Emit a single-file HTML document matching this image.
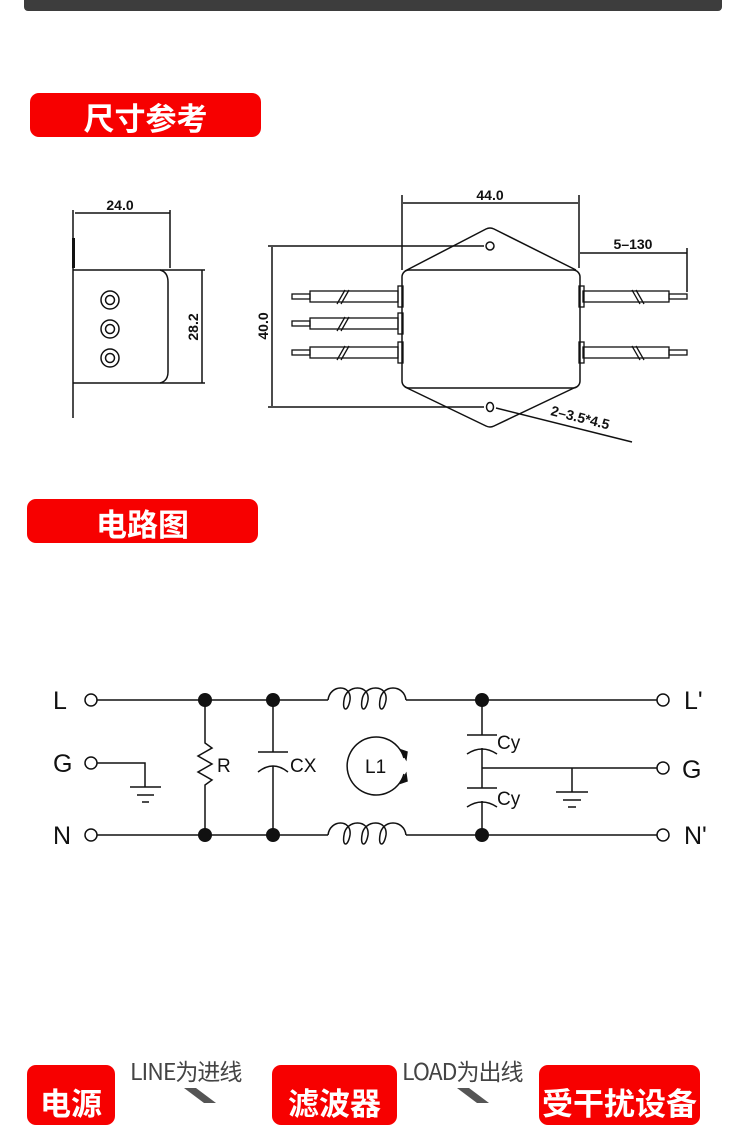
<!DOCTYPE html>
<html><head><meta charset="utf-8"><style>
html,body{margin:0;padding:0;background:#fff;}
body{width:750px;height:1103px;overflow:hidden;position:relative;font-family:"Liberation Sans","Noto Sans CJK SC",sans-serif;}
.red{position:absolute;background:#f70000;border-radius:9px;color:#fff;font-family:"Noto Sans CJK SC",sans-serif;font-weight:bold;text-align:center;}
.gray{position:absolute;color:#444;font-family:"Noto Sans CJK SC",sans-serif;font-size:23px;line-height:24px;letter-spacing:-1px;}
</style></head><body>
<div style="position:absolute;left:24px;top:0;width:698px;height:11px;background:#3d3d3d;border-radius:0 0 4px 4px;"></div>
<div class="red" style="left:30px;top:93px;width:231px;height:44px;font-size:31px;line-height:48px;">尺寸参考</div>
<div class="red" style="left:27px;top:499px;width:231px;height:44px;font-size:31px;line-height:48px;">电路图</div>
<div class="red" style="left:27px;top:1065px;width:88px;height:60px;font-size:31px;line-height:74px;">电源</div>
<div class="red" style="left:272px;top:1065px;width:125px;height:60px;font-size:31px;line-height:74px;">滤波器</div>
<div class="red" style="left:539px;top:1065px;width:161px;height:60px;font-size:31px;line-height:74px;">受干扰设备</div>
<div class="gray" style="left:130px;top:1058px;">LINE为进线</div>
<div class="gray" style="left:402px;top:1058px;">LOAD为出线</div>
<svg width="750" height="1103" style="position:absolute;left:0;top:0" xmlns="http://www.w3.org/2000/svg">
<g fill="#555"><polygon points="184,1088 196,1088 216,1103 204,1103"/><polygon points="457,1088 469,1088 489,1103 477,1103"/></g>
<g stroke="#111" fill="none" stroke-width="1.5" font-family="Liberation Sans, sans-serif">
<line x1="73" y1="210" x2="73" y2="418"/><line x1="73.5" y1="238" x2="73.5" y2="268" stroke-width="3"/>
<line x1="75" y1="213" x2="170" y2="213"/><line x1="170" y1="210" x2="170" y2="268"/>
<path d="M73 270 H160 Q168 272 168 282 V372 Q168 381 160 383 H73"/>
<line x1="160" y1="270" x2="205" y2="270"/><line x1="160" y1="383" x2="205" y2="383"/>
<line x1="202" y1="270" x2="202" y2="383"/>
<circle cx="110" cy="300" r="9"/><circle cx="110" cy="300" r="4.5"/>
<circle cx="110" cy="329" r="9"/><circle cx="110" cy="329" r="4.5"/>
<circle cx="110" cy="358" r="9"/><circle cx="110" cy="358" r="4.5"/>
<path d="M405 271 L486 229 Q490 227 494 229 L576 270"/>
<path d="M405 387 L486 426 Q490 428 494 426 L576 387"/>
<rect x="402" y="270" width="178" height="118" rx="7"/>
<line x1="402" y1="195" x2="402" y2="270"/><line x1="579" y1="195" x2="579" y2="268"/>
<line x1="403" y1="203" x2="578" y2="203"/>
<line x1="268" y1="246" x2="484" y2="246"/><line x1="268" y1="407" x2="484" y2="407"/>
<line x1="272" y1="247" x2="272" y2="406"/>
<line x1="580" y1="253" x2="687" y2="253"/><line x1="687" y1="248" x2="687" y2="292"/>
<line x1="496" y1="408" x2="632" y2="442"/>
<g stroke-width="1.3">
<rect x="292" y="294" width="18" height="5"/><rect x="310" y="291" width="88" height="11"/><rect x="398" y="286" width="5" height="21"/>
<rect x="292" y="321" width="18" height="5"/><rect x="310" y="318" width="88" height="11"/><rect x="398" y="313" width="5" height="21"/>
<rect x="292" y="350" width="18" height="5"/><rect x="310" y="347" width="88" height="11"/><rect x="398" y="342" width="5" height="21"/>
<rect x="669" y="294" width="18" height="5"/><rect x="583" y="291" width="86" height="11"/><rect x="579" y="286" width="5" height="21"/>
<rect x="669" y="350" width="18" height="5"/><rect x="583" y="347" width="86" height="11"/><rect x="579" y="342" width="5" height="21"/>
<path d="M337 304 L345 290 M341 304 L349 290 M337 331 L345 317 M341 331 L349 317 M337 360 L345 346 M341 360 L349 346"/>
<path d="M632 290 L640 304 M636 290 L644 304 M632 346 L640 360 M636 346 L644 360"/>
</g>
<circle cx="91" cy="700" r="6"/><circle cx="91" cy="763" r="6"/><circle cx="91" cy="835" r="6"/>
<circle cx="663" cy="700" r="6"/><circle cx="663" cy="768" r="6"/><circle cx="663" cy="835" r="6"/>
<line x1="97" y1="700" x2="328" y2="700"/><line x1="406" y1="700" x2="657" y2="700"/>
<line x1="97" y1="835" x2="328" y2="835"/><line x1="406" y1="835" x2="657" y2="835"/>
<path d="M328 700 C330 684 352 684 350 700 C348 712 342 712 344 700 C346 684 370 684 368 700 C366 712 360 712 362 700 C364 684 388 684 386 700 C384 712 378 712 380 700 C382 684 404 684 406 700"/>
<path d="M328 835 C330 819 352 819 350 835 C348 847 342 847 344 835 C346 819 370 819 368 835 C366 847 360 847 362 835 C364 819 388 819 386 835 C384 847 378 847 380 835 C382 819 404 819 406 835"/>
<path d="M97 763 H145 V787"/>
<line x1="130" y1="787" x2="161" y2="787"/><line x1="137" y1="795" x2="154" y2="795"/><line x1="142" y1="802" x2="149" y2="802"/>
<path d="M205 700 V743 L212 748 L198 756 L212 764 L198 772 L212 780 L205 785 V835"/>
<path d="M273 700 V752 M258 752 H288 M258 772 Q273 760 288 772 M273 766 V835"/>
<path d="M404 758 A29 29 0 1 0 404 774"/>
<polygon points="401,750 407,752 406,759" fill="#111"/><polygon points="406,774 407,781 401,783" fill="#111"/>
<path d="M482 700 V735 M467 735 H497 M467 754 Q482 744 497 754 M482 748 V788 M467 788 H497 M467 807 Q482 797 497 807 M482 801 V835"/>
<line x1="482" y1="768" x2="657" y2="768"/>
<line x1="572" y1="768" x2="572" y2="792"/><line x1="556" y1="792" x2="588" y2="792"/><line x1="563" y1="800" x2="581" y2="800"/><line x1="568" y1="807" x2="576" y2="807"/>
</g>
<g fill="#111">
<circle cx="205" cy="700" r="7"/><circle cx="273" cy="700" r="7"/><circle cx="482" cy="700" r="7"/>
<circle cx="205" cy="835" r="7"/><circle cx="273" cy="835" r="7"/><circle cx="482" cy="835" r="7"/>
<circle cx="490" cy="246" r="4" fill="none" stroke="#111" stroke-width="1.5"/>
<ellipse cx="490" cy="407" rx="3.5" ry="4.5" fill="none" stroke="#111" stroke-width="1.5"/>
</g>
<g font-family="Liberation Sans, sans-serif" fill="#111">
<text x="120" y="210" font-size="14" font-weight="bold" text-anchor="middle">24.0</text>
<text transform="translate(198,327) rotate(-90)" font-size="14" font-weight="bold" text-anchor="middle">28.2</text>
<text x="490" y="200" font-size="14" font-weight="bold" text-anchor="middle">44.0</text>
<text transform="translate(268,326) rotate(-90)" font-size="14" font-weight="bold" text-anchor="middle">40.0</text>
<text x="633" y="249" font-size="14" font-weight="bold" text-anchor="middle">5–130</text>
<text transform="translate(550,415) rotate(14)" font-size="14" font-weight="bold">2–3.5*4.5</text>
<text x="53" y="709" font-size="25">L</text><text x="53" y="772" font-size="25">G</text><text x="53" y="844" font-size="25">N</text>
<text x="684" y="709" font-size="25">L'</text><text x="682" y="778" font-size="25">G</text><text x="684" y="844" font-size="25">N'</text>
<text x="217" y="772" font-size="19">R</text><text x="290" y="772" font-size="19">CX</text>
<text x="365" y="773" font-size="19">L1</text>
<text x="497" y="749" font-size="19">Cy</text><text x="497" y="805" font-size="19">Cy</text>
</g>
</svg>
</body></html>
